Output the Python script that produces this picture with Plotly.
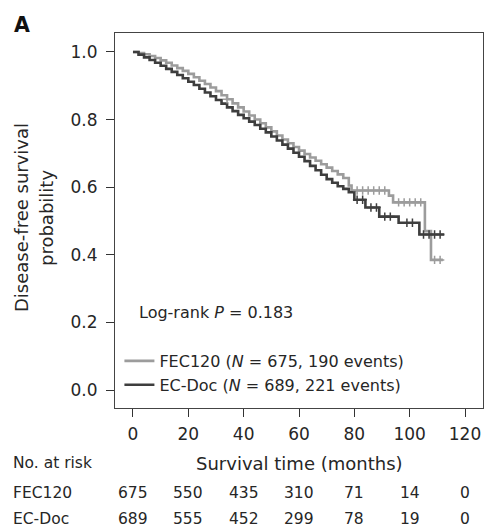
import plotly.graph_objects as go

# ---- data ----
fec_t = [0, 2, 4, 6, 8, 10, 12, 14, 16, 18, 20, 22, 24, 26, 28, 30, 32, 34, 36, 38, 40,
         42, 44, 46, 48, 50, 52, 54, 56, 58, 60, 62, 64, 66, 68, 70, 72, 74, 76, 78, 79,
         92.5, 94, 105.5, 107.7, 112]
fec_s = [1.000, 0.997, 0.993, 0.988, 0.982, 0.975, 0.968, 0.960, 0.952, 0.944, 0.935,
         0.925, 0.915, 0.905, 0.895, 0.884, 0.872, 0.860, 0.848, 0.836, 0.824, 0.812,
         0.800, 0.789, 0.777, 0.765, 0.753, 0.741, 0.730, 0.719, 0.708, 0.698, 0.688,
         0.678, 0.668, 0.658, 0.648, 0.638, 0.627, 0.605, 0.590, 0.575, 0.555, 0.470,
         0.385, 0.385]
fec_cens_t = [34, 81, 83, 85, 87, 89, 91, 96, 98, 100, 102, 104, 109, 111]
fec_cens_s = [0.860, 0.590, 0.590, 0.590, 0.590, 0.590, 0.590, 0.555, 0.555, 0.555,
              0.555, 0.555, 0.385, 0.385]

doc_t = [0, 2, 4, 6, 8, 10, 12, 14, 16, 18, 20, 22, 24, 26, 28, 30, 32, 34, 36, 38, 40,
         42, 44, 46, 48, 50, 52, 54, 56, 58, 60, 62, 64, 66, 68, 70, 72, 74, 76, 78, 80,
         84, 89, 96, 103.5, 112.5]
doc_s = [1.000, 0.992, 0.984, 0.976, 0.968, 0.959, 0.950, 0.941, 0.932, 0.922, 0.912,
         0.902, 0.891, 0.880, 0.869, 0.858, 0.847, 0.836, 0.825, 0.814, 0.804, 0.794,
         0.784, 0.773, 0.762, 0.750, 0.738, 0.726, 0.714, 0.702, 0.690, 0.677, 0.663,
         0.650, 0.637, 0.624, 0.613, 0.603, 0.595, 0.585, 0.563, 0.540, 0.513, 0.495,
         0.460, 0.460]
doc_cens_t = [81, 83, 86, 88, 91, 93, 99, 101, 105, 107, 109, 111]
doc_cens_s = [0.563, 0.563, 0.540, 0.540, 0.513, 0.513, 0.495, 0.495, 0.460, 0.460,
              0.460, 0.460]

x_ticks = [0, 20, 40, 60, 80, 100, 120]
y_ticks = [0.0, 0.2, 0.4, 0.6, 0.8, 1.0]
risk_fec = [675, 550, 435, 310, 71, 14, 0]
risk_doc = [689, 555, 452, 299, 78, 19, 0]

LIGHT = "#9c9c9c"
DARK = "#3e3e3e"
TXT = "#262626"
FONT = "DejaVu Sans, Liberation Sans, Arial, sans-serif"

fig = go.Figure()
fig.add_trace(go.Scatter(x=fec_t, y=fec_s, mode="lines", line_shape="hv",
                         line=dict(color=LIGHT, width=2.6),
                         name="FEC120 (<i>N</i> = 675, 190 events)"))
fig.add_trace(go.Scatter(x=doc_t, y=doc_s, mode="lines", line_shape="hv",
                         line=dict(color=DARK, width=2.6),
                         name="EC-Doc (<i>N</i> = 689, 221 events)"))
fig.add_trace(go.Scatter(x=fec_cens_t, y=fec_cens_s, mode="markers", showlegend=False,
                         marker=dict(symbol="cross-thin", size=6, line=dict(color=LIGHT, width=1.5))))
fig.add_trace(go.Scatter(x=doc_cens_t, y=doc_cens_s, mode="markers", showlegend=False,
                         marker=dict(symbol="cross-thin", size=6, line=dict(color=DARK, width=1.5))))

PL, PR, PT, PB = 115, 483, 33, 408  # plot area in pixels


def px_x(p):
    return (p - PL) / float(PR - PL)


def px_y(p):
    return (PB - p) / float(PB - PT)


annotations = []
annotations.append(dict(text="<b>A</b>", xref="paper", yref="paper", x=px_x(12), y=px_y(25),
                        xanchor="left", yanchor="middle", showarrow=False,
                        font=dict(size=20.5, color="#111")))
annotations.append(dict(text="Disease-free survival", xref="paper", yref="paper",
                        x=px_x(22), y=px_y(218), textangle=-90, xanchor="center", yanchor="middle",
                        showarrow=False, font=dict(size=18, color=TXT)))
annotations.append(dict(text="probability", xref="paper", yref="paper",
                        x=px_x(47), y=px_y(218), textangle=-90, xanchor="center", yanchor="middle",
                        showarrow=False, font=dict(size=18, color=TXT)))
annotations.append(dict(text="Log-rank <i>P</i> = 0.183", xref="paper", yref="paper",
                        x=px_x(137), y=px_y(312), xanchor="left", yanchor="middle",
                        showarrow=False, font=dict(size=16, color=TXT)))
annotations.append(dict(text="Survival time (months)", xref="paper", yref="paper",
                        x=0.5, y=px_y(463), xanchor="center", yanchor="middle",
                        showarrow=False, font=dict(size=18, color=TXT)))
for label, ypx in [("No. at risk", 463), ("FEC120", 493), ("EC-Doc", 519)]:
    annotations.append(dict(text=label, xref="paper", yref="paper", x=px_x(11), y=px_y(ypx),
                            xanchor="left", yanchor="middle", showarrow=False,
                            font=dict(size=15.5, color=TXT)))
for t, a, b in zip(x_ticks, risk_fec, risk_doc):
    annotations.append(dict(text=str(a), xref="x", yref="paper", x=t, y=px_y(493),
                            xanchor="center", yanchor="middle", showarrow=False,
                            font=dict(size=15.5, color=TXT)))
    annotations.append(dict(text=str(b), xref="x", yref="paper", x=t, y=px_y(519),
                            xanchor="center", yanchor="middle", showarrow=False,
                            font=dict(size=15.5, color=TXT)))

fig.update_layout(
    width=484, height=528,
    margin=dict(l=PL, r=484 - PR, t=PT, b=528 - PB),
    paper_bgcolor="white", plot_bgcolor="white",
    font=dict(family=FONT, size=16, color=TXT),
    showlegend=True,
    legend=dict(x=0.012, y=px_y(344), xanchor="left", yanchor="top",
                bgcolor="rgba(0,0,0,0)", font=dict(size=16, color=TXT),
                tracegroupgap=0, itemwidth=30),
    annotations=annotations,
    xaxis=dict(range=[-6.5, 126.5], tickvals=x_ticks, ticktext=[str(v) for v in x_ticks],
               ticks="outside", ticklen=8, tickwidth=1, tickcolor="#333",
               ticklabelstandoff=3,
               showline=True, linecolor="#444", linewidth=1, mirror=True,
               showgrid=False, zeroline=False, tickfont=dict(size=17, color=TXT)),
    yaxis=dict(range=[-0.053, 1.056], tickvals=y_ticks, ticktext=["%.1f" % v for v in y_ticks],
               ticks="outside", ticklen=8, tickwidth=1, tickcolor="#333",
               ticklabelstandoff=5,
               showline=True, linecolor="#444", linewidth=1, mirror=True,
               showgrid=False, zeroline=False, tickfont=dict(size=17, color=TXT)),
)

fig.write_html("out.html", config={"displayModeBar": False},
               post_script="document.body.style.margin='0px';document.body.style.overflow='hidden';")
